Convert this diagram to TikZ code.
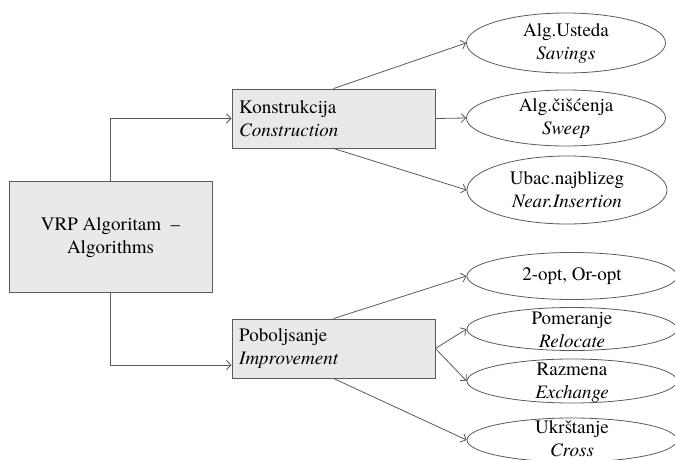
\documentclass[tikz,border=0pt]{standalone}
\usepackage{fontspec}
\setmainfont{texgyretermes}[Extension=.otf, UprightFont=*-regular, ItalicFont=*-italic, BoldFont=*-bold]
\usetikzlibrary{arrows.meta,shapes.geometric}
\definecolor{boxfill}{HTML}{E9E9E9}
\definecolor{boxline}{HTML}{5A5A5A}
\definecolor{conline}{HTML}{5A5A5A}
\begin{document}
\begin{tikzpicture}[x=1pt,y=-1pt,
  txt/.style={font=\fontsize{19}{23}\selectfont, inner sep=0pt},
  gbox/.style={draw=boxline, fill=boxfill, line width=0.9pt, inner sep=0pt},
  ell/.style={ellipse, draw=boxline, line width=0.8pt, inner sep=0pt},
  con/.style={draw=conline, line width=0.8pt, -{Straight Barb[length=4.5pt,width=9pt]}}
]
\useasboundingbox (0,0) rectangle (675,460);
% boxes
\node[gbox, minimum width=203pt, minimum height=111pt] (vrp) at (110.5,236.5) {};
\node[txt, align=center] at (110.5,238) {VRP Algoritam\ \ –\\Algorithms};
\node[gbox, minimum width=203pt, minimum height=59pt] (kon) at (333.5,118.5) {};
\node[txt, align=left, anchor=west] at (239,118.5) {Konstrukcija\\\textit{Construction}};
\node[gbox, minimum width=203pt, minimum height=59pt] (pob) at (333.5,348.5) {};
\node[txt, align=left, anchor=west] at (239,348.5) {Poboljsanje\\\textit{Improvement}};
% ellipses
\node[ell, minimum width=199pt, minimum height=60pt] (sav) at (566,43) {};
\node[txt, align=center] at (sav) {Alg.Usteda\\\textit{Savings}};
\node[ell, minimum width=199pt, minimum height=56pt] (swp) at (566,118) {};
\node[txt, align=center] at (swp) {Alg.čišćenja\\\textit{Sweep}};
\node[ell, minimum width=200pt, minimum height=68pt] (nin) at (567,190) {};
\node[txt, align=center] at (nin) {Ubac.najblizeg\\\textit{Near.Insertion}};
\node[ell, minimum width=210pt, minimum height=47pt] (opt) at (572,276) {};
\node[txt, align=center] at (opt) {2-opt, Or-opt};
\node[ell, minimum width=210pt, minimum height=43pt] (rel) at (572,329) {};
\node[txt, align=center] at (572,330) {Pomeranje\\\textit{Relocate}};
\node[ell, minimum width=210pt, minimum height=44pt] (exc) at (572,381) {};
\node[txt, align=center] at (572,383) {Razmena\\\textit{Exchange}};
\node[ell, minimum width=210pt, minimum height=44pt] (crs) at (572,440) {};
\node[txt, align=center] at (572,439) {Ukrštanje\\\textit{Cross}};
% connectors
\draw[con] (vrp.north) |- (kon.west);
\draw[con] (vrp.south) |- ([yshift=-16.5pt]pob.west);
\draw[con] (kon.north) -- (sav.west);
\draw[con] (kon.east) -- (swp.west);
\draw[con] (kon.south) -- (nin.west);
\draw[con] (pob.north) -- (opt.west);
\draw[con] (pob.east) -- (rel.west);
\draw[con] (pob.east) -- (exc.west);
\draw[con] (pob.south) -- (crs.west);
\end{tikzpicture}
\end{document}
